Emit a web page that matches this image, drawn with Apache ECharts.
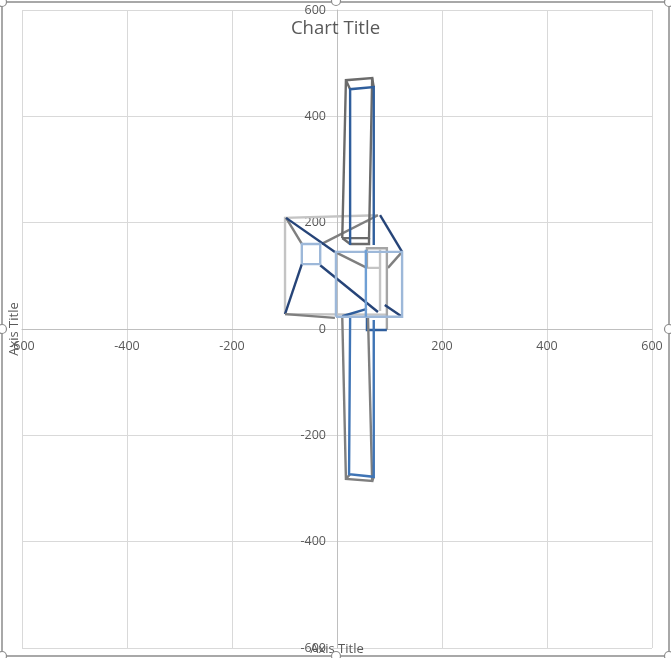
<!DOCTYPE html>
<html><head><meta charset="utf-8">
<style>html,body{margin:0;padding:0;background:#fff}#c{width:671px;height:658px}</style>
<script src="https://cdn.jsdelivr.net/npm/echarts@6/dist/echarts.min.js"></script>
</head><body><div id="c"></div>
<script>
const tickValues = [-600,-400,-200,0,200,400,600];
const upperBack = [[10,171],[17,468],[67,472],[61,171],[10,171]];
const upperLinks = [[17,468],[25,451],null,[67,472],[70,455],null,[10,171],[25,160],[61,160],[61,171]];
const upperFront = [[25,158],[25,451],[70,455],[70,158]];
const lowerBack = [[10,24],[17,-282],[67,-286],[59,24]];
const lowerLinks = [[17,-282],[25,-273],null,[67,-286],[70,-278]];
const lowerFront = [[25,21],[23,-273],[70,-278],[70,17]];
const middleBack = [[-99,28],[-99,209],[78,214]];
const middleBackBottom = [[-99,28],[95,27]];
const diagonalA = [[-97,209],[-4,145]];
const diagonalB = [[-32,120],[78,32]];
const cornerTopRight = [[82,214],[124,145]];
const cornerLowRight = [[91,45],[124,23]];
const cornerLowLeft = [[-99,28],[-67,122]];
const cornerLowMid = [[10,24],[57,38]];
const cornerBottomLeft = [[-99,28],[-4,21]];
const greyTopLeft = [[-97,209],[-67,160]];
const greyTopRight = [[-29,160],[78,214]];
const greyRight = [[124,145],[97,115]];
const greyMid = [[-4,145],[57,115]];
const smallSquare = [[-67,122],[-67,160],[-32,160],[-32,122],[-67,122]];
const bigSquare = [[-2,23],[-2,145],[124,145],[124,23],[-2,23]];
const bigDivider = [[55,149],[55,23]];
const rightBar = [[57,115],[57,152],[95,152],[95,-2]];
const rightInner = [[57,115],[82,115],[82,149],null,[82,115],[82,34]];
const rightFoot = [[57,23],[57,-2],[95,-2]];

const NAVY='#264478', BLUE='#2F5E9C', PALE='#9DB8D9', GREY='#7F7F7F', DARKGREY='#6B6B6B', SILVER='#C4C4C4', MIDGREY='#A5A5A5', MIDBLUE='#3F74B5', LIGHTBLUE='#6F9FD4';
const sets = [
  [middleBack,SILVER],[middleBackBottom,SILVER],[rightInner,SILVER],
  [greyTopLeft,GREY],[greyTopRight,GREY],[greyRight,GREY],[greyMid,GREY],
  [rightBar,MIDGREY],[rightFoot,BLUE],
  [upperBack,DARKGREY],[upperLinks,DARKGREY],[upperFront,BLUE],
  [lowerBack,GREY],[lowerLinks,GREY],[lowerFront,MIDBLUE],
  [diagonalA,NAVY],[diagonalB,NAVY],[cornerTopRight,NAVY],[cornerLowRight,NAVY],
  [cornerLowLeft,NAVY],[cornerLowMid,BLUE],[cornerBottomLeft,GREY],
  [smallSquare,PALE],[bigSquare,PALE],[bigDivider,LIGHTBLUE]
];
const FONT='"Open Sans","Noto Sans",sans-serif', TXT='#595959';
const axisCommon = {
  type:'value',min:tickValues[0],max:tickValues[tickValues.length-1],interval:200,
  axisTick:{show:false},
  axisLine:{show:true,onZero:false,lineStyle:{color:'#BFBFBF',width:1}},
  splitLine:{show:true,lineStyle:{color:'#D9D9D9',width:1}},
  nameLocation:'middle',name:'Axis Title',
  nameTextStyle:{color:TXT,fontSize:13,fontFamily:FONT}
};
const handles = [[2,2],[336,1],[669,2],[2,329],[669,329],[2,656],[336,656],[669,656]];
const chart = echarts.init(document.getElementById('c'),null,{renderer:'canvas'});
chart.setOption({
  animation:false,
  title:{text:'Chart Title',left:'center',top:14,textStyle:{color:TXT,fontSize:18.6,fontWeight:'normal',fontFamily:FONT}},
  grid:{left:22,right:19,top:10,bottom:10,containLabel:false,outerBoundsMode:'none'},
  xAxis:Object.assign({},axisCommon,{position:'bottom',offset:-319,nameGap:314,
    axisLabel:{color:TXT,fontSize:12.5,fontFamily:FONT,margin:11,showMinLabel:true,showMaxLabel:true,
      formatter:v=>v===0?'':String(v)}}),
  yAxis:Object.assign({},axisCommon,{position:'left',offset:-315,nameGap:316,
    axisLabel:{color:TXT,fontSize:12.5,fontFamily:FONT,margin:11,showMinLabel:true,showMaxLabel:true}}),
  series:sets.map(([d,c])=>({type:'line',data:d,symbol:'none',connectNulls:false,silent:true,
    lineStyle:{color:c,width:2.4,join:'miter'}})),
  graphic:[{type:'rect',silent:true,z:-1,shape:{x:2,y:2,width:667,height:654},style:{fill:'none',stroke:'#8C8C8C',lineWidth:1.5}}]
    .concat(handles.map(h=>({type:'circle',silent:true,z:100,shape:{cx:h[0],cy:h[1],r:4.5},style:{fill:'#fff',stroke:'#8C8C8C',lineWidth:1.2}})))
});
</script></body></html>
